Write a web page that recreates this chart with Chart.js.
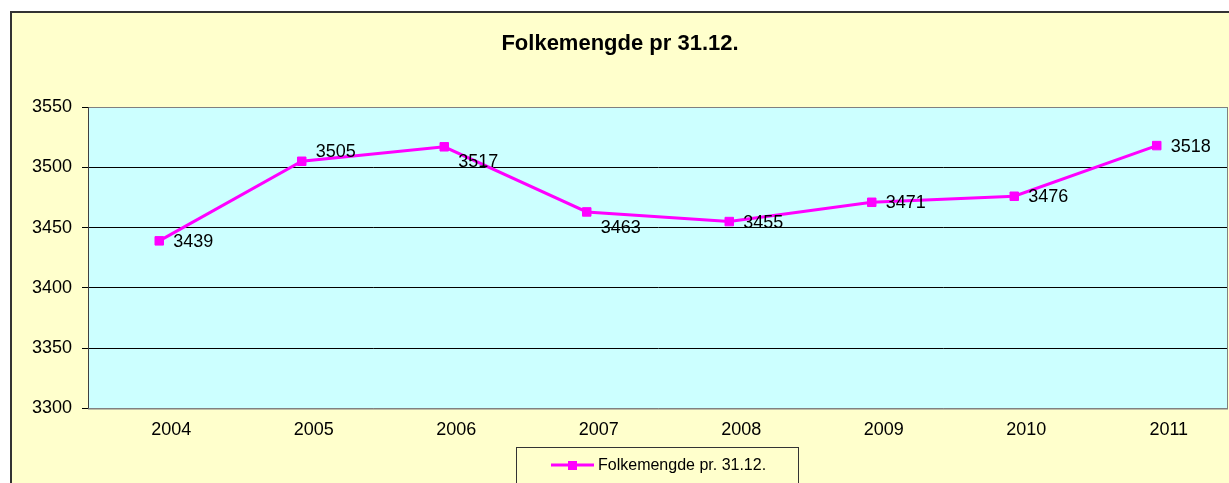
<!DOCTYPE html>
<html>
<head>
<meta charset="utf-8">
<script src="https://cdn.jsdelivr.net/npm/chart.js@4"></script>
<style>
  body { margin: 0; background: #fff; overflow: hidden; }
</style>
</head>
<body>
<!-- a few px wider than the window: the reference crops the right edge of the chart -->
<canvas id="chart" width="1235" height="483"></canvas>
<script>
// data
const years = ["2004", "2005", "2006", "2007", "2008", "2009", "2010", "2011"];
const population = [3439, 3505, 3517, 3463, 3455, 3471, 3476, 3518];
const yMin = 3300;
const yMax = 3550;
const yStep = 50;

const titleText = "Folkemengde pr 31.12.";
const legendText = "Folkemengde pr. 31.12.";

// vertical nudge of each value label (px), the way they sit in the picture
const labelNudge = [0, -10, 14, 15, 0, 0, 0, 0];

const FONT = "'Liberation Sans', Arial, sans-serif";
const MAGENTA = "#FF00FF";

// backgrounds, frame, title, legend box and value labels
const decor = {
  id: "decor",
  beforeDraw(chart) {
    const { ctx, chartArea: a } = chart;
    ctx.save();
    ctx.fillStyle = "#ffffff";
    ctx.fillRect(0, 0, chart.width, chart.height);
    ctx.fillStyle = "#FFFFCC";
    ctx.fillRect(11, 12, chart.width, chart.height);
    ctx.strokeStyle = "#333333";
    ctx.lineWidth = 2;
    ctx.strokeRect(11, 12, chart.width + 10, chart.height + 10);
    ctx.fillStyle = "#CCFFFF";
    ctx.fillRect(a.left, a.top, a.right - a.left, a.bottom - a.top);
    ctx.restore();
  },
  afterDraw(chart) {
    const { ctx, chartArea: a } = chart;
    ctx.save();

    // plot border
    ctx.strokeStyle = "#808080";
    ctx.lineWidth = 1;
    ctx.strokeRect(a.left + 0.5, a.top + 0.5, a.right - a.left - 1, a.bottom - a.top);
    ctx.strokeStyle = "#404040";
    ctx.beginPath();
    ctx.moveTo(a.left + 0.5, a.top);
    ctx.lineTo(a.left + 0.5, a.bottom);
    ctx.stroke();

    // title
    ctx.fillStyle = "#000";
    ctx.font = "bold 22px " + FONT;
    ctx.textAlign = "center";
    ctx.textBaseline = "middle";
    ctx.fillText(titleText, 620, 44);

    // value labels, right of each point
    const meta = chart.getDatasetMeta(0);
    ctx.font = "18px " + FONT;
    ctx.textAlign = "left";
    meta.data.forEach((pt, i) => {
      ctx.fillText(String(population[i]), pt.x + 14, pt.y + 1 + labelNudge[i]);
    });

    // legend box at the bottom
    ctx.fillStyle = "#FFFFCC";
    ctx.fillRect(516.5, 447.5, 282, 60);
    ctx.strokeStyle = "#333333";
    ctx.strokeRect(516.5, 447.5, 282, 60);
    ctx.strokeStyle = MAGENTA;
    ctx.lineWidth = 3;
    ctx.beginPath();
    ctx.moveTo(551, 465);
    ctx.lineTo(594, 465);
    ctx.stroke();
    ctx.fillStyle = MAGENTA;
    ctx.fillRect(568, 461, 9, 9);
    ctx.fillStyle = "#000";
    ctx.font = "16px " + FONT;
    ctx.textBaseline = "middle";
    ctx.fillText(legendText, 598, 466);

    ctx.restore();
  }
};

const chart = new Chart(document.getElementById("chart"), {
  type: "line",
  data: {
    labels: years,
    datasets: [
      {
        label: legendText,
        data: population,
        borderColor: MAGENTA,
        backgroundColor: MAGENTA,
        borderWidth: 3,
        pointStyle: "rect",
        pointRadius: 6,
        pointBorderWidth: 1,
        tension: 0,
        fill: false,
      },
    ],
  },
  options: {
    responsive: false,
    animation: false,
    layout: {
      padding: { left: 0, top: 107, right: 0, bottom: 0 },
    },
    plugins: {
      legend: { display: false },
      title: { display: false },
      tooltip: { enabled: false },
    },
    scales: {
      x: {
        offset: true,
        grid: { display: false, drawTicks: false },
        border: { display: false },
        ticks: {
          color: "#000",
          font: { family: FONT, size: 18 },
          padding: 11,
          labelOffset: 12,
          maxRotation: 0,
        },
        afterFit(scale) {
          scale.height = 74.5;
        },
      },
      y: {
        min: yMin,
        max: yMax,
        grid: {
          color: (c) => (c.tick && (c.tick.value === yMin || c.tick.value === yMax) ? "#808080" : "#000"),
          tickColor: "#000",
          tickLength: 6,
        },
        border: { color: "#404040" },
        ticks: {
          stepSize: yStep,
          color: "#000",
          font: { family: FONT, size: 18 },
          padding: 10,
          callback: (v) => String(v),
        },
        afterFit(scale) {
          scale.width = 88;
        },
      },
    },
  },
  plugins: [decor],
});
</script>
</body>
</html>
